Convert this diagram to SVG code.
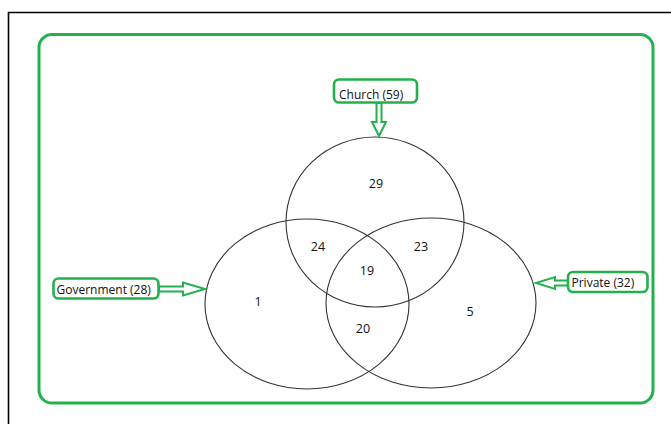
<svg xmlns="http://www.w3.org/2000/svg" width="671" height="424" viewBox="0 0 671 424">
<style>
.frame{fill:none;stroke:#000;stroke-width:1.6}
.panel{fill:none;stroke:#22b14c;stroke-width:3}
.box{fill:#fff;stroke:#22b14c;stroke-width:2.6}
.arrow{fill:#fff;stroke:#22b14c;stroke-width:2;stroke-linejoin:miter}
.set{fill:none;stroke:#333;stroke-width:1.1}
.lbl{font-family:"Open Sans","Liberation Sans",sans-serif;font-size:12px;fill:#111}
.num{font-family:"Open Sans","Liberation Sans",sans-serif;font-size:12.5px;fill:#111;text-anchor:middle}
</style>
<rect x="0" y="0" width="671" height="424" fill="#fff"/>
<path class="frame" d="M8.5,424 V12.5 H671"/>
<rect class="panel" x="39" y="34.5" width="614" height="368.5" rx="13" ry="13"/>
<g id="sets">
<ellipse id="church-set" class="set" cx="375" cy="222" rx="89" ry="85"/>
<ellipse id="government-set" class="set" cx="307" cy="304" rx="102" ry="85"/>
<ellipse id="private-set" class="set" cx="431" cy="303" rx="105" ry="85"/>
</g>
<g id="regions">
<text class="num" x="376" y="188">29</text>
<text class="num" x="318" y="251">24</text>
<text class="num" x="421" y="251">23</text>
<text class="num" x="367" y="275">19</text>
<text class="num" x="258" y="306">1</text>
<text class="num" x="363" y="333">20</text>
<text class="num" x="470" y="316">5</text>
</g>
<g id="connectors">
<polygon class="arrow" points="376.5,103 381.5,103 381.5,122 386,122 379,136 372,122 376.5,122"/>
<polygon class="arrow" points="159,286.5 183,286.5 183,282.5 205,289 183,295.5 183,291.5 159,291.5"/>
<polygon class="arrow" points="568,280.5 555,280.5 555,277 536,283 555,289 555,285.5 568,285.5"/>
</g>
<g id="church">
<rect class="box" x="334" y="79.5" width="83" height="23" rx="5"/>
<text class="lbl" x="339" y="99">Church (59)</text>
</g>
<g id="government">
<rect class="box" x="53.5" y="278.5" width="105" height="20" rx="5"/>
<text class="lbl" x="56.5" y="294">Government (28)</text>
</g>
<g id="private">
<rect class="box" x="568" y="272" width="79.5" height="20" rx="5"/>
<text class="lbl" x="571.5" y="287">Private (32)</text>
</g>
</svg>
